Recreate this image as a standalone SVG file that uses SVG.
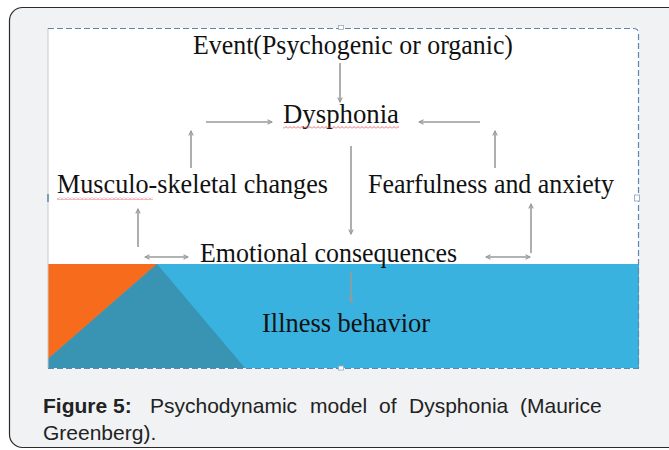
<svg xmlns="http://www.w3.org/2000/svg" width="669" height="450" viewBox="0 0 669 450">
<style>
.lbl{font-family:"Liberation Serif","Times New Roman",serif;font-size:27.5px;fill:#111;}
.cap{font-family:"Liberation Sans",Arial,sans-serif;font-size:21px;fill:#222;}
.con{stroke:#9a9a9a;stroke-width:1.6;fill:none;}
.dash{stroke:#5d85b0;stroke-width:1.2;stroke-dasharray:6 3;fill:none;}
</style>
<defs>
<marker id="ah" viewBox="0 0 8 8" refX="7" refY="4" markerWidth="6" markerHeight="6" markerUnits="userSpaceOnUse" orient="auto-start-reverse">
<path d="M1,1 L7,4 L1,7" fill="none" stroke="#9a9a9a" stroke-width="1.4"/>
</marker>
<pattern id="sq" width="4" height="3" patternUnits="userSpaceOnUse">
<path d="M0,2.5 L2,0.5 L4,2.5" fill="none" stroke="#e8474a" stroke-width="0.8"/>
</pattern>
</defs>
<rect x="0" y="0" width="669" height="450" fill="#ffffff"/>
<rect x="9.5" y="7.5" width="700" height="440" rx="13" fill="#f1f2f4" stroke="#2b2b2b" stroke-width="1.2"/>
<g id="panel">
<rect x="48" y="28" width="591" height="340" fill="#ffffff"/>
<rect x="48" y="264" width="591" height="104" fill="#3ab2e0"/>
<polygon points="48,264 157,264 48,359" fill="#f76b1c"/>
<polygon points="157,264 48,359 48,368 245,368" fill="#3994b3"/>
<line x1="48" y1="28" x2="48" y2="368" stroke="#c8c8c8" stroke-width="1"/>
<path class="dash" d="M48,28.5 H634 Q638.5,28.5 638.5,33 V368"/>
<line class="dash" x1="48" y1="368.5" x2="639" y2="368.5"/>
<rect x="338.5" y="25.5" width="5" height="4" fill="#ffffff" stroke="#9aa8b8" stroke-width="0.8"/>
<rect x="338.5" y="366" width="5" height="4" fill="#ffffff" stroke="#9aa8b8" stroke-width="0.8"/>
<rect x="634.5" y="195" width="5" height="6" fill="#ffffff" stroke="#8aa2bf" stroke-width="0.8"/>
<line x1="48" y1="194" x2="48" y2="202" stroke="#5d85b0" stroke-width="1.5"/>
</g>
<g id="connectors">
<line class="con" x1="340" y1="63" x2="340" y2="102" marker-end="url(#ah)"/>
<line class="con" x1="206" y1="122" x2="272" y2="122" marker-end="url(#ah)"/>
<line class="con" x1="480" y1="122" x2="419" y2="122" marker-end="url(#ah)"/>
<line class="con" x1="191" y1="168" x2="191" y2="131" marker-end="url(#ah)"/>
<line class="con" x1="495" y1="168" x2="495" y2="131" marker-end="url(#ah)"/>
<line class="con" x1="351" y1="146" x2="351" y2="234" marker-end="url(#ah)"/>
<line class="con" x1="138" y1="247" x2="138" y2="209" marker-end="url(#ah)"/>
<line class="con" x1="145" y1="257" x2="188" y2="257" marker-start="url(#ah)" marker-end="url(#ah)"/>
<line class="con" x1="486" y1="257" x2="530" y2="257" marker-start="url(#ah)" marker-end="url(#ah)"/>
<line class="con" x1="531" y1="253" x2="531" y2="204" marker-end="url(#ah)"/>
<line class="con" x1="351" y1="272" x2="351" y2="302" stroke="#7f8a90" marker-end="url(#ah)"/>
</g>
<g id="node-event"><text class="lbl" x="193" y="54" textLength="320" lengthAdjust="spacingAndGlyphs">Event(Psychogenic or organic)</text></g>
<g id="node-dysphonia"><text class="lbl" x="283" y="123" textLength="116" lengthAdjust="spacingAndGlyphs">Dysphonia</text>
<rect x="283" y="126" width="116" height="3" fill="url(#sq)"/></g>
<g id="node-musculo"><text class="lbl" x="57" y="193" textLength="271" lengthAdjust="spacingAndGlyphs">Musculo-skeletal changes</text>
<rect x="57" y="197" width="96" height="3" fill="url(#sq)"/></g>
<g id="node-fear"><text class="lbl" x="368" y="193" textLength="246" lengthAdjust="spacingAndGlyphs">Fearfulness and anxiety</text></g>
<g id="node-emotional"><text class="lbl" x="200" y="262" textLength="257" lengthAdjust="spacingAndGlyphs">Emotional consequences</text></g>
<g id="node-illness"><text class="lbl" x="262" y="332" textLength="168" lengthAdjust="spacingAndGlyphs">Illness behavior</text></g>
<g id="caption">
<text class="cap" y="413"><tspan x="43" font-weight="bold">Figure</tspan><tspan x="113" font-weight="bold">5:</tspan><tspan x="150">Psychodynamic</tspan><tspan x="310">model</tspan><tspan x="379">of</tspan><tspan x="409">Dysphonia</tspan><tspan x="520">(Maurice</tspan></text>
<text class="cap" x="43" y="440">Greenberg).</text>
</g>
</svg>
